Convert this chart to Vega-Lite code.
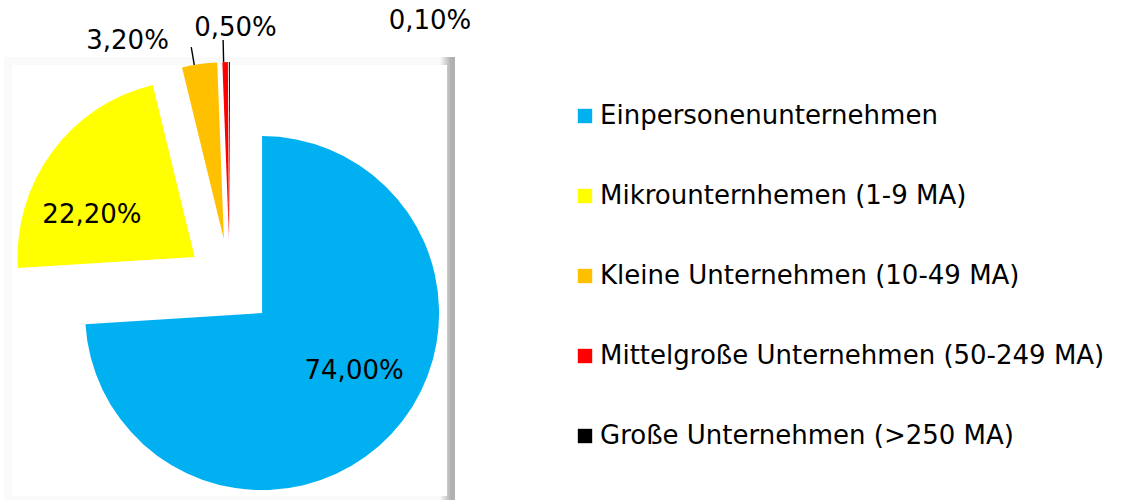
{
  "$schema": "https://vega.github.io/schema/vega-lite/v6.json",
  "width": 443,
  "height": 439,
  "autosize": {"type": "none"},
  "padding": {"left": 8, "top": 61, "right": 671, "bottom": 0},
  "background": "#ffffff",
  "config": {
    "style": {
      "view": {
        "fill": "#ffffff",
        "strokeWidth": 8,
        "stroke": {"gradient": "linear", "x1": 0, "y1": 0, "x2": 1, "y2": 0,
          "stops": [{"offset": 0, "color": "#fafafa"}, {"offset": 0.975, "color": "#fafafa"}, {"offset": 1, "color": "#b0b0b0"}]}
      }
    },
    "text": {"font": "DejaVu Sans"},
    "legend": {
      "orient": "none", "legendX": 564, "legendY": 42, "padding": 0,
      "symbolType": "square", "symbolSize": 207, "symbolStrokeWidth": 0,
      "labelFont": "DejaVu Sans", "labelFontSize": 26, "labelColor": "#000000",
      "labelLimit": 0, "labelOffset": 2, "rowPadding": 54, "title": null
    }
  },
  "data": {"values": [
    {"k": "Einpersonenunternehmen", "v": 74.0, "lab": "74,00%"},
    {"k": "Mikrounternhemen (1-9 MA)", "v": 22.2, "lab": "22,20%"},
    {"k": "Kleine Unternehmen (10-49 MA)", "v": 3.2, "lab": "3,20%"},
    {"k": "Mittelgroße Unternehmen (50-249 MA)", "v": 0.5, "lab": "0,50%"},
    {"k": "Große Unternehmen (>250 MA)", "v": 0.1, "lab": "0,10%"}
  ]},
  "encoding": {
    "theta": {"field": "v", "type": "quantitative", "stack": true},
    "order": {"field": "v", "type": "quantitative", "sort": "descending"}
  },
  "layer": [
    {"mark": {"type": "arc", "radius": 177, "xOffset": 32.6, "yOffset": 32.6},
     "encoding": {
       "color": {"field": "k", "type": "nominal", "title": null,
         "scale": {"domain": ["Einpersonenunternehmen", "Mikrounternhemen (1-9 MA)", "Kleine Unternehmen (10-49 MA)", "Mittelgroße Unternehmen (50-249 MA)", "Große Unternehmen (>250 MA)"],
                   "range": ["#00b0f0", "#ffff00", "#ffc000", "#ff0000", "#000000"]}},
       "opacity": {"condition": {"test": "datum.k === 'Einpersonenunternehmen'", "value": 1}, "value": 0}}},
    {"mark": {"type": "arc", "radius": 177, "xOffset": -34.9, "yOffset": -23.6},
     "encoding": {
       "color": {"field": "k", "type": "nominal", "title": null,
         "scale": {"domain": ["Einpersonenunternehmen", "Mikrounternhemen (1-9 MA)", "Kleine Unternehmen (10-49 MA)", "Mittelgroße Unternehmen (50-249 MA)", "Große Unternehmen (>250 MA)"],
                   "range": ["#00b0f0", "#ffff00", "#ffc000", "#ff0000", "#000000"]}},
       "opacity": {"condition": {"test": "datum.k === 'Mikrounternhemen (1-9 MA)'", "value": 1}, "value": 0}}},
    {"mark": {"type": "arc", "radius": 177, "xOffset": -5.6, "yOffset": -41.1},
     "encoding": {
       "color": {"field": "k", "type": "nominal", "title": null,
         "scale": {"domain": ["Einpersonenunternehmen", "Mikrounternhemen (1-9 MA)", "Kleine Unternehmen (10-49 MA)", "Mittelgroße Unternehmen (50-249 MA)", "Große Unternehmen (>250 MA)"],
                   "range": ["#00b0f0", "#ffff00", "#ffc000", "#ff0000", "#000000"]}},
       "opacity": {"condition": {"test": "datum.k === 'Kleine Unternehmen (10-49 MA)'", "value": 1}, "value": 0}}},
    {"mark": {"type": "arc", "radius": 177, "xOffset": -0.5, "yOffset": -41.5},
     "encoding": {
       "color": {"field": "k", "type": "nominal", "title": null,
         "scale": {"domain": ["Einpersonenunternehmen", "Mikrounternhemen (1-9 MA)", "Kleine Unternehmen (10-49 MA)", "Mittelgroße Unternehmen (50-249 MA)", "Große Unternehmen (>250 MA)"],
                   "range": ["#00b0f0", "#ffff00", "#ffc000", "#ff0000", "#000000"]}},
       "opacity": {"condition": {"test": "datum.k === 'Mittelgroße Unternehmen (50-249 MA)'", "value": 1}, "value": 0}}},
    {"mark": {"type": "arc", "radius": 177, "xOffset": 0.4, "yOffset": -41.5},
     "encoding": {
       "color": {"field": "k", "type": "nominal", "title": null,
         "scale": {"domain": ["Einpersonenunternehmen", "Mikrounternhemen (1-9 MA)", "Kleine Unternehmen (10-49 MA)", "Mittelgroße Unternehmen (50-249 MA)", "Große Unternehmen (>250 MA)"],
                   "range": ["#00b0f0", "#ffff00", "#ffc000", "#ff0000", "#000000"]}},
       "opacity": {"condition": {"test": "datum.k === 'Große Unternehmen (>250 MA)'", "value": 1}, "value": 0}}},
    {"mark": {"type": "arc", "innerRadius": 177, "outerRadius": 195, "padAngle": 1, "thetaOffset": -0.03, "filled": false, "stroke": "#000000", "strokeWidth": 1.4, "xOffset": -5.6, "yOffset": -41.1},
     "encoding": {"detail": {"field": "k"},
       "opacity": {"condition": {"test": "datum.k === 'Kleine Unternehmen (10-49 MA)'", "value": 1}, "value": 0}}},
    {"mark": {"type": "arc", "innerRadius": 177, "outerRadius": 199, "padAngle": 1, "filled": false, "stroke": "#000000", "strokeWidth": 1.4, "xOffset": -2, "yOffset": -41.5},
     "encoding": {"detail": {"field": "k"},
       "opacity": {"condition": {"test": "datum.k === 'Mittelgroße Unternehmen (50-249 MA)'", "value": 1}, "value": 0}}},
    {"mark": {"type": "text", "radius": 107, "xOffset": 32.6, "yOffset": 32.6, "dx": 14, "dy": -15, "fontSize": 26, "font": "DejaVu Sans"},
     "encoding": {"text": {"field": "lab"}, "detail": {"field": "k"}, "color": {"value": "#000000"},
       "opacity": {"condition": {"test": "datum.k === 'Einpersonenunternehmen'", "value": 1}, "value": 0}}},
    {"mark": {"type": "text", "radius": 107, "xOffset": -34.9, "yOffset": -23.6, "dx": -16.5, "dy": 21.4, "fontSize": 26, "font": "DejaVu Sans"},
     "encoding": {"text": {"field": "lab"}, "detail": {"field": "k"}, "color": {"value": "#000000"},
       "opacity": {"condition": {"test": "datum.k === 'Mikrounternhemen (1-9 MA)'", "value": 1}, "value": 0}}},
    {"mark": {"type": "text", "radius": 200, "xOffset": -5.6, "yOffset": -41.1, "dx": -68.8, "dy": -0.8, "fontSize": 26, "font": "DejaVu Sans"},
     "encoding": {"text": {"field": "lab"}, "detail": {"field": "k"}, "color": {"value": "#000000"},
       "opacity": {"condition": {"test": "datum.k === 'Kleine Unternehmen (10-49 MA)'", "value": 1}, "value": 0}}},
    {"mark": {"type": "text", "radius": 200, "xOffset": -0.5, "yOffset": -41.5, "dx": 10.9, "dy": -11.5, "fontSize": 26, "font": "DejaVu Sans"},
     "encoding": {"text": {"field": "lab"}, "detail": {"field": "k"}, "color": {"value": "#000000"},
       "opacity": {"condition": {"test": "datum.k === 'Mittelgroße Unternehmen (50-249 MA)'", "value": 1}, "value": 0}}},
    {"mark": {"type": "text", "radius": 200, "xOffset": 0.4, "yOffset": -41.5, "dx": 200.7, "dy": -18, "fontSize": 26, "font": "DejaVu Sans"},
     "encoding": {"text": {"field": "lab"}, "detail": {"field": "k"}, "color": {"value": "#000000"},
       "opacity": {"condition": {"test": "datum.k === 'Große Unternehmen (>250 MA)'", "value": 1}, "value": 0}}}
  ]
}
